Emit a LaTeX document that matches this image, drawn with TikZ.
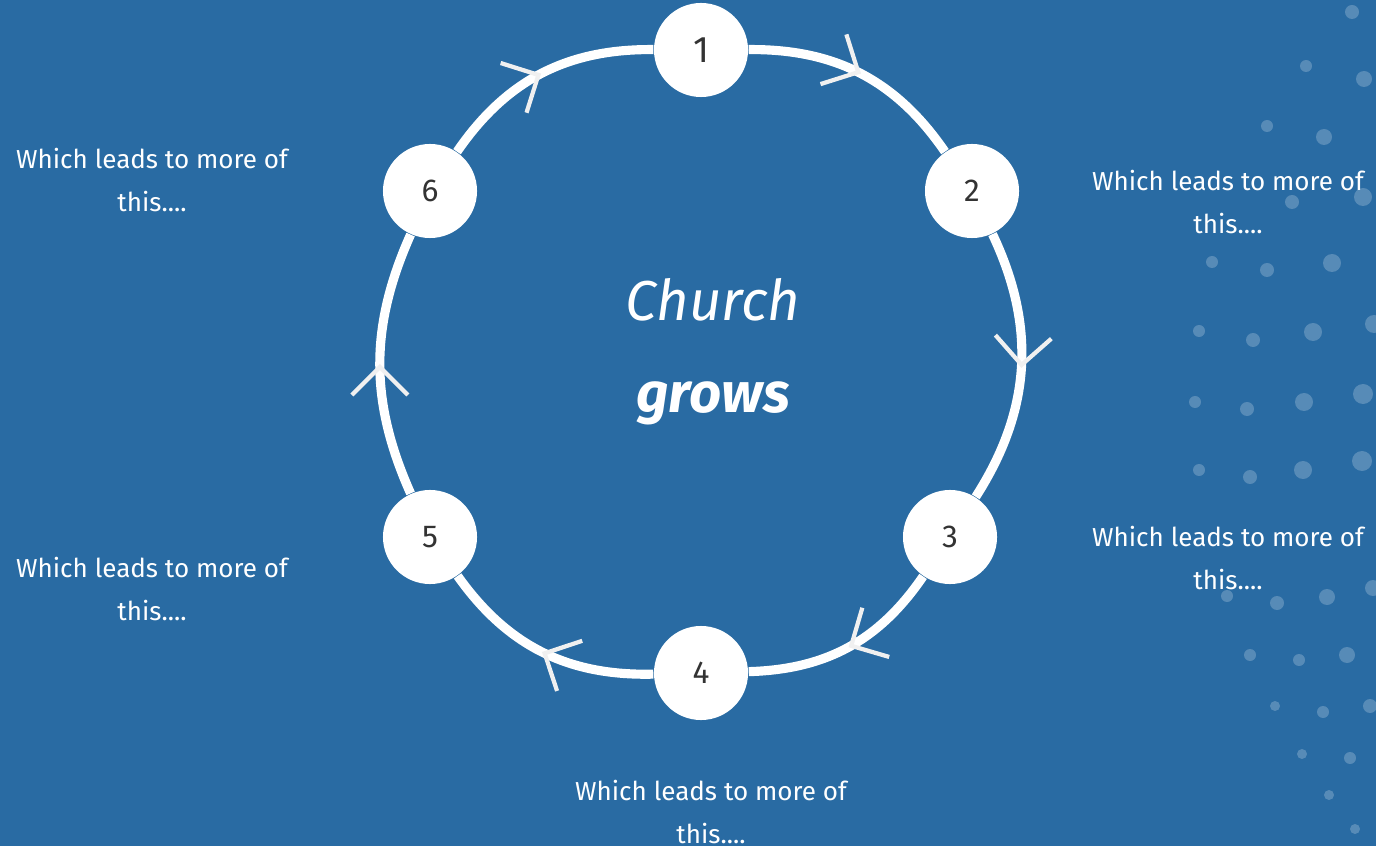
\documentclass[tikz,border=0pt]{standalone}
\usepackage{fontspec}
\setmainfont{Fira Sans}
\usetikzlibrary{arrows.meta,decorations.markings}

\definecolor{bgblue}{RGB}{41,107,163}
\definecolor{numgray}{RGB}{51,51,51}
\newcommand\leadfont{\fontsize{7.4}{12.5}\selectfont}

\tikzset{
  ring/.style={draw=white, line width=2.6pt, postaction={decorate},
    decoration={markings, mark=at position 0.5 with
      {\arrow[white!88!gray]{Straight Barb[length=0.28cm,width=0.56cm,line width=1.2pt]}}}},
  stage/.style={circle, fill=white, minimum size=0.94cm, inner sep=0pt,
    text=numgray, font=\fontsize{9}{9}\selectfont},
  lead/.style={text=white, align=center, font=\leadfont},
  spot/.style={fill=white, fill opacity=0.22},
}

\begin{document}
\begin{tikzpicture}[x=0.01cm, y=-0.01cm]
  % background
  \fill[bgblue] (0,0) rectangle (1376,846);
  \useasboundingbox (0,0) rectangle (1376,846);
  % dots on the right
  \foreach \x/\y/\r in {1352/12/7, 1306/66/6, 1364/79/8, 1267/126/6, 1324/137/8,
      1292/202/7, 1363/197/9, 1212/262/6, 1267/270/7, 1332/263/9, 1199/331/6,
      1253/340/7, 1313/332/9, 1374/324/9, 1195/402/6, 1247/409/7, 1304/402/9,
      1363/394/10, 1199/470/6, 1250/477/7, 1303/470/9, 1362/461/10, 1227/596/6,
      1277/603/7, 1327/597/8, 1373/588/8, 1250/655/6, 1299/660/6, 1347/655/8,
      1275/706/5, 1323/712/6, 1370/706/7, 1302/754/5, 1350/758/6, 1329/795/5,
      1355/829/5}
    \fill[spot] (\x,\y) circle (\r);

  % stages on the ring
  \node[stage, font=\fontsize{10.5}{10.5}\selectfont] (s1) at (701,50) {1};
  \node[stage] (s2) at (972,191) {2};
  \node[stage] (s3) at (950,537) {3};
  \node[stage] (s4) at (701,673) {4};
  \node[stage] (s5) at (430,537) {5};
  \node[stage] (s6) at (430,191) {6};

  \draw[ring] (s1) to[bend left=28] (s2);
  \draw[ring] (s2) to[bend left=29] (s3);
  \draw[ring] (s3) to[bend left=27] (s4);
  \draw[ring] (s4) to[bend left=28] (s5);
  \draw[ring] (s5) to[bend left=24] (s6);
  \draw[ring] (s6) to[bend left=28] (s1);

  % centre
  \node[text=white, font=\fontsize{16}{16}\selectfont\itshape] (church) at (713,300) {Church};
  \node[text=white, font=\fontsize{16}{16}\selectfont\bfseries\itshape] (grows) at (713,403) {grows};

  % side texts
  \node[lead] (t6) at (152,180) {Which leads to more of\\this....};
  \node[lead] (t2) at (1228,202) {Which leads to more of\\this....};
  \node[lead] (t3) at (1228,558) {Which leads to more of\\this....};
  \node[lead] (t5) at (152,589) {Which leads to more of\\this....};
  \node[lead] (t4) at (711,812) {Which leads to more of\\this....};
\end{tikzpicture}
\end{document}
